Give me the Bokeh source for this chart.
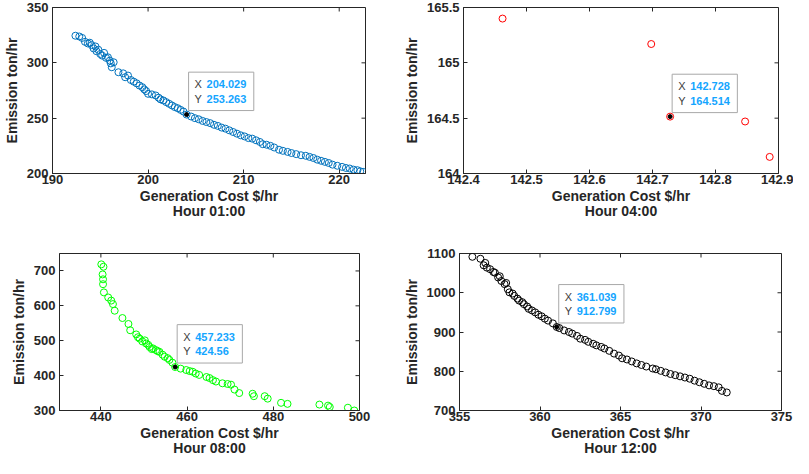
import math
from bokeh.plotting import figure
from bokeh.models import Range1d, FixedTicker, Label
from bokeh.layouts import column, row
from bokeh.embed import file_html
from bokeh.resources import INLINE

# ---------------- data ----------------
# Hour 01:00
cost_h1 = [192.4, 192.8, 193.1, 193.4, 193.7, 193.9, 194.1, 194.3, 194.5, 194.6, 194.8, 195.0,
           195.2, 195.4, 195.6, 195.8, 196.0, 196.1, 196.2, 196.4, 196.9, 197.4, 197.6, 197.9,
           198.2, 198.5, 198.8, 199.1, 199.4, 199.6, 199.8, 200.0, 200.4, 200.8, 201.1, 201.3,
           201.6, 201.9, 202.2, 202.5, 202.8, 203.1, 203.4, 203.7, 204.029, 204.5, 204.9, 205.3,
           205.7, 206.1, 206.5, 206.9, 207.3, 207.7, 208.1, 208.5, 208.9, 209.3, 209.7, 210.1,
           210.5, 210.9, 211.3, 211.7, 212.0, 212.4, 212.8, 213.2, 213.7, 214.1, 214.6, 215.0,
           215.5, 216.0, 216.5, 216.9, 217.3, 217.7, 218.1, 218.5, 218.9, 219.3, 219.8, 220.3,
           220.7, 221.1, 221.5, 221.9, 222.2, 222.5]
emis_h1 = [324.5, 323.8, 322.5, 319.0, 317.5, 318.2, 316.0, 313.0, 314.8, 310.5, 311.8, 308.0,
           306.5, 309.0, 304.5, 305.0, 302.0, 299.5, 296.0, 300.5, 291.5, 290.5, 287.0, 288.5,
           284.5, 283.0, 281.5, 279.5, 278.0, 276.0, 274.5, 272.0, 271.5, 270.5, 268.5, 267.0,
           266.0, 264.5, 263.0, 261.5, 260.0, 259.0, 257.5, 256.0, 253.263, 251.5, 250.0, 249.0,
           247.5, 246.5, 245.5, 244.0, 243.0, 241.5, 240.5, 239.0, 237.5, 236.0, 234.5, 233.5,
           232.0, 231.5, 230.0, 228.5, 226.5, 226.0, 225.0, 223.5, 221.5, 220.5, 219.5, 218.5,
           217.5, 216.5, 216.0, 215.0, 214.0, 212.5, 211.5, 210.5, 209.5, 208.0, 207.0, 206.0,
           205.0, 204.5, 203.5, 203.0, 202.0, 201.5]

# Hour 04:00
cost_h4 = [142.462, 142.698, 142.728, 142.847, 142.886]
emis_h4 = [165.40, 165.17, 164.514, 164.47, 164.15]

# Hour 08:00
cost_h8 = [440.1, 440.6, 440.4, 440.5, 440.5, 440.7, 441.7, 442.4, 442.8, 443.2, 445.0, 446.4,
           446.8, 448.2, 448.6, 449.0, 449.6, 450.2, 450.5, 451.0, 451.3, 451.8, 452.1, 452.8,
           453.2, 453.6, 454.3, 454.8, 455.5, 455.9, 456.6, 457.233, 458.5, 459.8, 460.6, 461.3,
           462.0, 462.8, 464.5, 465.2, 466.0, 466.7, 468.2, 469.4, 470.2, 471.0, 472.1, 475.2,
           475.5, 478.0, 478.7, 481.8, 483.3, 490.7, 492.7, 493.1, 497.3, 498.8]
emis_h8 = [718.9, 712.0, 690.0, 676.0, 662.0, 638.5, 624.0, 615.0, 605.0, 586.0, 565.0, 548.0,
           530.0, 518.0, 510.0, 506.0, 498.0, 501.0, 492.0, 488.0, 482.0, 476.0, 478.0, 473.0,
           470.0, 468.0, 460.0, 454.0, 450.0, 445.0, 437.0, 424.56, 420.0, 416.0, 413.0, 411.0,
           406.0, 402.0, 396.0, 393.0, 387.0, 383.0, 378.0, 376.0, 374.0, 360.0, 350.0, 348.0,
           341.0, 341.0, 334.0, 322.0, 319.0, 317.0, 314.0, 310.0, 308.0, 300.0]

# Hour 12:00
cost_h12 = [355.8, 356.3, 356.5, 356.6, 356.7, 356.9, 357.1, 357.2, 357.4, 357.5, 357.6, 357.8,
            357.9, 358.0, 358.1, 358.3, 358.4, 358.6, 358.7, 358.9, 359.0, 359.2, 359.3, 359.5,
            359.7, 359.9, 360.1, 360.3, 360.5, 360.8, 361.039, 361.2, 361.5, 361.8, 362.0, 362.3,
            362.5, 362.8, 363.0, 363.3, 363.5, 363.8, 364.0, 364.3, 364.6, 364.9, 365.1, 365.4,
            365.7, 366.0, 366.3, 366.6, 367.0, 367.2, 367.5, 367.8, 368.1, 368.4, 368.7, 369.0,
            369.3, 369.6, 369.9, 370.2, 370.5, 370.8, 371.1, 371.3, 371.6]
emis_h12 = [1091.6, 1086.6, 1070.0, 1076.0, 1064.0, 1060.0, 1053.0, 1051.0, 1039.0, 1042.0, 1030.0,
            1022.0, 1025.0, 1009.0, 1001.0, 998.0, 992.0, 985.0, 980.0, 976.0, 971.0, 965.0, 959.0,
            955.0, 950.0, 944.0, 940.0, 934.0, 929.0, 922.0, 912.799, 910.0, 904.0, 900.0, 896.0,
            890.0, 883.0, 880.0, 875.0, 870.0, 866.0, 862.0, 858.0, 852.0, 845.0, 840.0, 833.0,
            830.0, 825.0, 820.0, 816.0, 812.0, 807.0, 805.0, 801.0, 797.0, 793.0, 790.0, 787.0,
            784.0, 781.0, 776.0, 772.0, 768.0, 764.0, 762.0, 759.0, 750.0, 746.0]

ticks_x1 = [190, 200, 210, 220]
ticks_y1 = [200, 250, 300, 350]
ticks_x4 = [142.4, 142.5, 142.6, 142.7, 142.8, 142.9]
ticks_y4 = [164, 164.5, 165, 165.5]
ticks_x8 = [440, 460, 480, 500]
ticks_y8 = [300, 400, 500, 600, 700]
ticks_x12 = [355, 360, 365, 370, 375]
ticks_y12 = [700, 800, 900, 1000, 1100]

tip_h1 = (204.029, 253.263)
tip_h4 = (142.728, 164.514)
tip_h8 = (457.233, 424.56)
tip_h12 = (361.039, 912.799)

FONT = "Liberation Sans"
AXC = "#262626"


def panel(xs, ys, color, xr, yr, xt, yt, tip, hour, w, h, borders):
    bl, br, bt, bb = borders
    p = figure(width=w, height=h, output_backend="svg", toolbar_location=None,
               x_range=Range1d(*xr), y_range=Range1d(*yr),
               min_border_left=bl, min_border_right=br, min_border_top=bt, min_border_bottom=bb)
    p.grid.visible = False
    p.outline_line_color = AXC
    p.outline_line_alpha = 1.0
    p.outline_line_width = 1
    p.background_fill_color = "white"
    p.border_fill_color = "white"

    for ax in (p.xaxis[0], p.yaxis[0]):
        ax.axis_line_color = AXC
        ax.major_tick_line_color = AXC
        ax.major_tick_in = 4
        ax.major_tick_out = 0
        ax.minor_tick_line_color = None
        ax.major_label_text_font = FONT
        ax.major_label_text_font_style = "bold"
        ax.major_label_text_font_size = "13px"
        ax.major_label_text_color = "#262626"
        ax.axis_label_text_font = FONT
        ax.axis_label_text_font_style = "bold"
        ax.axis_label_text_font_size = "14px"
        ax.axis_label_text_color = "#262626"
    p.xaxis[0].ticker = FixedTicker(ticks=xt)
    p.yaxis[0].ticker = FixedTicker(ticks=yt)
    p.xaxis[0].axis_label = "Generation Cost $/hr\nHour " + hour
    p.xaxis[0].axis_label_text_line_height = 0.95
    p.xaxis[0].axis_label_text_align = "center"
    p.yaxis[0].axis_label = "Emission ton/hr"
    p.xaxis[0].major_label_standoff = 1
    p.xaxis[0].axis_label_standoff = 1
    p.yaxis[0].major_label_standoff = 4
    p.yaxis[0].axis_label_standoff = 4

    # inward ticks on the top and right edges of the box
    p.ray(x=xt, y=[yr[1]] * len(xt), length=4, length_units="screen",
          angle=-math.pi / 2, line_color=AXC, line_width=1)
    p.ray(x=[xr[1]] * len(yt), y=yt, length=4, length_units="screen",
          angle=math.pi, line_color=AXC, line_width=1)

    p.scatter(xs, ys, marker="circle", size=7, fill_color=None, line_color=color, line_width=1)
    p.scatter([tip[0]], [tip[1]], marker="circle", size=4, fill_color="black", line_color="black")

    xs_txt = "%g" % tip[0]
    ys_txt = "%g" % tip[1]
    pad = 6
    bx, by = 2, 4
    box = Label(x=tip[0], y=tip[1], x_offset=bx, y_offset=by,
                text="X  " + xs_txt + "\nY  " + ys_txt,
                text_font=FONT, text_font_size="11px", text_font_style="bold",
                text_color="white", text_baseline="bottom", text_align="left",
                background_fill_color="white", background_fill_alpha=1.0,
                border_line_color="#a8a8a8", border_line_width=1, padding=pad)
    lab_xy = Label(x=tip[0], y=tip[1], x_offset=bx + pad, y_offset=by + pad, text="X\nY",
                   text_font=FONT, text_font_size="11px", text_color="#404040",
                   text_baseline="bottom", text_align="left")
    lab_val = Label(x=tip[0], y=tip[1], x_offset=bx + pad + 12, y_offset=by + pad,
                    text=xs_txt + "\n" + ys_txt,
                    text_font=FONT, text_font_size="11px", text_font_style="bold",
                    text_color="#14A5FF", text_baseline="bottom", text_align="left")
    p.add_layout(box)
    p.add_layout(lab_xy)
    p.add_layout(lab_val)
    return p


p1 = panel(cost_h1, emis_h1, "#0072BD", (190, 222.75), (200, 350), ticks_x1, ticks_y1,
           tip_h1, "01:00", 400, 221, (47, 35, 7, 48))
p2 = panel(cost_h4, emis_h4, "#FF0000", (142.4, 142.9), (164, 165.5), ticks_x4, ticks_y4,
           tip_h4, "04:00", 393, 221, (51, 15, 7, 48))
p3 = panel(cost_h8, emis_h8, "#00FF00", (430.4, 500), (300, 750), ticks_x8, ticks_y8,
           tip_h8, "08:00", 400, 237, (59, 41, 32, 48))
p4 = panel(cost_h12, emis_h12, "#000000", (355, 375), (700, 1100), ticks_x12, ticks_y12,
           tip_h12, "12:00", 393, 237, (51, 12, 32, 48))

layout = column(row(p1, p2), row(p3, p4))
open("out.html", "w").write(file_html(layout, INLINE))
